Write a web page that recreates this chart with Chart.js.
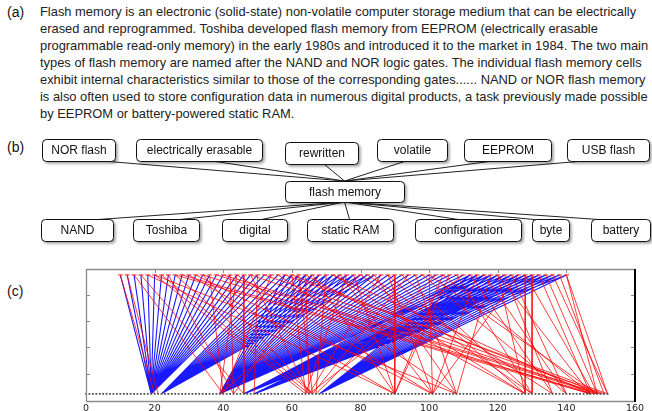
<!DOCTYPE html>
<html><head><meta charset="utf-8">
<script src="https://cdn.jsdelivr.net/npm/chart.js@4/dist/chart.umd.min.js"></script>
<style>
html,body{margin:0;padding:0;background:#fff;}
body{width:652px;height:411px;position:relative;overflow:hidden;font-family:"Liberation Sans",Arial,Helvetica,sans-serif;}
.lab{position:absolute;left:7px;font-size:14px;color:#111;}
#para{position:absolute;left:40px;top:3px;font-size:12.9px;line-height:17px;color:#222;white-space:nowrap;}
#gwrap{position:absolute;left:0;top:130px;width:652px;height:120px;}
#cwrap{position:absolute;left:0;top:250px;width:652px;height:161px;}
canvas{display:block;}
</style></head>
<body>
<div class="lab" style="top:4px">(a)</div>
<div id="para">Flash memory is an electronic (solid-state) non-volatile computer storage medium that can be electrically<br>erased and reprogrammed. Toshiba developed flash memory from EEPROM (electrically erasable<br>programmable read-only memory) in the early 1980s and introduced it to the market in 1984. The two main<br>types of flash memory are named after the NAND and NOR logic gates. The individual flash memory cells<br>exhibit internal characteristics similar to those of the corresponding gates...... NAND or NOR flash memory<br>is also often used to store configuration data in numerous digital products, a task previously made possible<br>by EEPROM or battery-powered static RAM.</div>
<div class="lab" style="top:139px">(b)</div>
<div class="lab" style="top:283px">(c)</div>
<div id="gwrap"><canvas id="g" width="652" height="120"></canvas></div>
<div id="cwrap"><canvas id="c" width="652" height="161"></canvas></div>
<script>
// ---------- (b) concept graph data ----------
const centerTerm = 'flash memory';
const topTerms = ['NOR flash','electrically erasable','rewritten','volatile','EEPROM','USB flash'];
const bottomTerms = ['NAND','Toshiba','digital','static RAM','configuration','byte','battery'];

// ---------- (c) alignment data ----------
const topPositions = [10,12,14,16,18,20,22,24,26,28,30,32,34,36,38,40,42,44,46,48,50,52,54,56,58,60,62,64,66,68,70,72,74,76,78,80,82,84,86,88,90,92,94,96,98,100,102,104,106,108,110,112,114,116,118,120,122,124,126,128,130,132,134,136,138,140];
const bottomPositions = [0,1,2,3,4,5,6,7,8,9,10,11,12,13,14,15,16,17,18,19,20,21,22,23,24,25,26,27,28,29,30,31,32,33,34,35,36,37,38,39,40,41,42,43,44,45,46,47,48,49,50,51,52,53,54,55,56,57,58,59,60,61,62,63,64,65,66,67,68,69,70,71,72,73,74,75,76,77,78,79,80,81,82,83,84,85,86,87,88,89,90,91,92,93,94,95,96,97,98,99,100,101,102,103,104,105,106,107,108,109,110,111,112,113,114,115,116,117,118,119,120,121,122,123,124,125,126,127,128,129,130,131,132,133,134,135,136,137,138,139,140,141,142,143,144,145,146,147,148,149,150,151,152];
const blueHubs = [19,22,39,46,49,68];
const blueHubTops = [
  [10,12,14,16,18,20,22,24,26,28,30,32,34,36,38,40,42,44,46,48,50,52,54],
  [56,58,60,62,64,66,68,70,72,74,76,78,80,82,84],
  [58,60,62,64,66,68,70,72,74,76,78,80,82,84,86,88,90,92,94,96,98,100,102,104,106,108,110,112,114,116,118],
  [112,114,116,118,120,122,124,126,128,130,132,134],
  [120,122,124,126,128,130,132,134,136,138,140],
  [112,114,116,118,120,122,124,126,128,130,132,134,136,138,140]
];
const redLinks = [
  [10,20],[12,21],[14,40],[16,46],[18,90],[20,64],[20,108],[22,65],[24,43],[26,147],[26,66],[28,148],
  [30,90],[32,101],[34,66],[34,147],[36,40],[38,149],[40,150],[42,43],[44,39],[44,101],[46,46],[48,65],
  [48,149],[50,49],[52,151],[54,40],[56,108],[58,152],[60,64],[60,150],[62,66],[64,65],[64,128],[66,90],
  [68,43],[70,67],[72,128],[72,147],[74,101],[76,64],[78,90],[80,39],[80,130],[82,136],[84,108],[86,65],
  [88,101],[88,128],[90,90],[92,130],[94,66],[96,108],[98,140],[100,101],[100,149],[102,67],[104,147],
  [104,90],[106,90],[108,130],[110,65],[112,136],[114,101],[116,140],[118,108],[120,128],[120,147],
  [122,136],[124,140],[126,101],[128,128],[128,148],[130,130],[132,147],[134,149],[136,152],[138,151],
  [140,152],[140,149]
];
const xTickValues = [0,20,40,60,80,100,120,140,160];
const yTickValues = [0.17,0.39,0.61,0.83];

// ---------- (b) layout (page pixel coordinates) ----------
const layout = {
  center: [285,404,181,202],
  top: [[42,115,139,161],[136,262,139,161],[285,358,142,164],[377,447,139,161],[464,551,139,161],[567,649,139,161]],
  bottom: [[41,113,219,241],[133,199,219,241],[222,287,219,241],[307,393,219,241],[415,521,219,241],[532,569,219,241],[591,650,219,241]]
};
const nodes = [];
topTerms.forEach((t,i)=>nodes.push({term:t, r:layout.top[i], row:'top'}));
bottomTerms.forEach((t,i)=>nodes.push({term:t, r:layout.bottom[i], row:'bottom'}));
const hub = {term:centerTerm, r:layout.center};
const hubCx = (hub.r[0]+hub.r[1])/2;
const edgePts = [];
nodes.forEach(n=>{
  const cx=(n.r[0]+n.r[1])/2;
  edgePts.push({x:cx,y:n.row==='top'?n.r[3]-2:n.r[2]+2});
  edgePts.push({x:hubCx,y:n.row==='top'?hub.r[2]:hub.r[3]});
  edgePts.push({x:hubCx,y:null});
});
function rr(ctx,x,y,w,h,r){ctx.beginPath();ctx.moveTo(x+r,y);ctx.arcTo(x+w,y,x+w,y+h,r);ctx.arcTo(x+w,y+h,x,y+h,r);ctx.arcTo(x,y+h,x,y,r);ctx.arcTo(x,y,x+w,y,r);ctx.closePath();}
const boxPlugin = {
  id:'boxes',
  afterDatasetsDraw(chart){
    const ctx=chart.ctx, sx=chart.scales.x, sy=chart.scales.y;
    [...nodes, hub].forEach(n=>{
      const x0=sx.getPixelForValue(n.r[0]), x1=sx.getPixelForValue(n.r[1]);
      const y0=sy.getPixelForValue(n.r[2]), y1=sy.getPixelForValue(n.r[3]);
      ctx.save();
      ctx.shadowColor='rgba(0,0,0,0.4)'; ctx.shadowBlur=3; ctx.shadowOffsetX=2; ctx.shadowOffsetY=2;
      rr(ctx,x0+0.5,y0+0.5,x1-x0,y1-y0,4);
      ctx.fillStyle='#fff'; ctx.fill();
      ctx.restore();
      ctx.save();
      rr(ctx,x0+0.5,y0+0.5,x1-x0,y1-y0,4);
      ctx.lineWidth=1; ctx.strokeStyle='#111'; ctx.stroke();
      ctx.fillStyle='#111'; ctx.font='12px "Liberation Sans", Arial, sans-serif';
      ctx.textAlign='center'; ctx.textBaseline='middle';
      ctx.fillText(n.term,(x0+x1)/2+0.5,(y0+y1)/2+1);
      ctx.restore();
    });
  }
};
new Chart(document.getElementById('g'),{
  type:'scatter',
  data:{datasets:[{data:edgePts, showLine:true, borderColor:'#222', borderWidth:1, pointRadius:0, spanGaps:false}]},
  options:{responsive:false, animation:false, events:[], layout:{padding:0},
    plugins:{legend:{display:false}, tooltip:{enabled:false}},
    scales:{x:{type:'linear',min:0,max:652,display:false}, y:{type:'linear',min:130,max:250,reverse:true,display:false}}},
  plugins:[boxPlugin]
});

// ---------- (c) chart ----------
function linkData(pairs){
  const d=[];
  pairs.forEach(p=>{d.push({x:p[0],y:1}); d.push({x:p[1],y:0}); d.push({x:p[1],y:null});});
  return d;
}
const bluePairs=[];
blueHubs.forEach((h,i)=>blueHubTops[i].forEach(t=>bluePairs.push([t,h])));
const framePlugin = {
  id:'frame',
  afterDatasetsDraw(chart){
    const {ctx, chartArea:a, scales:{x,y}} = chart;
    ctx.save();
    ctx.lineWidth=1; ctx.strokeStyle='#8c8c8c';
    ctx.beginPath();
    yTickValues.forEach(v=>{const py=Math.round(y.getPixelForValue(v))+0.5; ctx.moveTo(a.left,py); ctx.lineTo(a.left+4,py); ctx.moveTo(a.right,py); ctx.lineTo(a.right-4,py);});
    xTickValues.forEach(v=>{const px=Math.round(x.getPixelForValue(v))+0.5; ctx.moveTo(px,a.top); ctx.lineTo(px,a.top+4);});
    ctx.stroke();
    ctx.beginPath();
    ctx.moveTo(a.left+0.5,a.bottom+0.5); ctx.lineTo(a.left+0.5,a.top+0.5); ctx.lineTo(a.right,a.top+0.5);
    ctx.moveTo(a.left,a.bottom+0.5); ctx.lineTo(a.right,a.bottom+0.5);
    ctx.lineWidth=1.3; ctx.strokeStyle='#8c8c8c'; ctx.stroke();
    ctx.beginPath(); ctx.moveTo(a.right,a.top); ctx.lineTo(a.right,a.bottom+1);
    ctx.lineWidth=2; ctx.strokeStyle='#000'; ctx.stroke();
    ctx.restore();
  }
};
new Chart(document.getElementById('c'),{
  type:'scatter',
  data:{datasets:[
    {data:bottomPositions.map(v=>({x:v,y:0})), pointStyle:'rect', pointRadius:1.3, backgroundColor:'#555', borderColor:'#555', borderWidth:0, showLine:false},
    {data:topPositions.map(v=>({x:v,y:1})), pointStyle:'line', pointRadius:2.5, borderColor:'#ff2020', borderWidth:1, showLine:false},
    {data:linkData(redLinks), showLine:true, borderColor:'rgba(255,0,0,0.85)', borderWidth:0.9, pointRadius:0, spanGaps:false},
    {data:linkData(bluePairs), showLine:true, borderColor:'rgba(0,0,255,0.9)', borderWidth:1.1, pointRadius:0, spanGaps:false}
  ]},
  options:{responsive:false, animation:false, events:[], clip:false,
    layout:{padding:{left:86,right:17,top:19,bottom:0}},
    plugins:{legend:{display:false}, tooltip:{enabled:false}},
    scales:{
      x:{type:'linear',min:0,max:160,
        afterBuildTicks(s){s.ticks=xTickValues.map(v=>({value:v}));},
        afterFit(s){s.height=10;},
        grid:{display:false, drawTicks:false}, border:{display:false},
        ticks:{padding:2, color:'#222', font:{family:'"DejaVu Sans", sans-serif', size:9.5}, maxRotation:0, autoSkip:false}},
      y:{type:'linear',min:-0.06,max:1.05,display:false}
    }},
  plugins:[framePlugin]
});
</script>
</body></html>
